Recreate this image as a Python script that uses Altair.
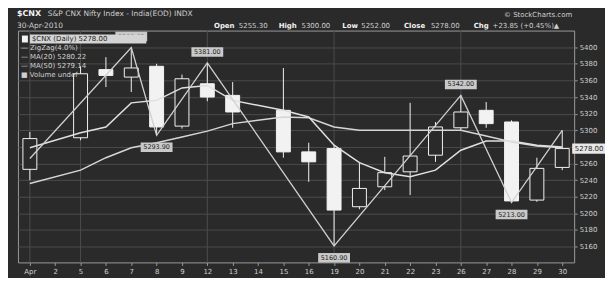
import altair as alt
import pandas as pd

# ---------------- data ----------------
axis_days = ["Apr", "2", "5", "6", "7", "8", "9", "12", "13", "14", "15", "16",
             "19", "20", "21", "22", "23", "26", "27", "28", "29", "30"]
trade_days = ["Apr", "5", "6", "7", "8", "9", "12", "13", "15", "16",
              "19", "20", "21", "22", "23", "26", "27", "28", "29", "30"]
opens = [5253, 5291, 5373, 5364, 5377, 5305, 5356, 5342, 5324, 5274,
         5278, 5208, 5232, 5250, 5270, 5303, 5324, 5310, 5216, 5255.3]
highs = [5298, 5377, 5388, 5399.65, 5380, 5367, 5381, 5358, 5375, 5285,
         5282, 5261, 5268, 5333, 5310, 5342, 5334, 5312, 5267, 5300]
lows = [5240, 5288, 5352, 5346, 5293.9, 5302, 5335, 5303, 5267, 5238,
        5160.9, 5205, 5228, 5222, 5262, 5300, 5303, 5213, 5214, 5252]
closes = [5290, 5368, 5366, 5375, 5304, 5362, 5340, 5322, 5274, 5262,
          5204, 5230, 5249, 5269, 5304, 5322, 5308, 5215, 5254.15, 5278]
ma_fast = [5279, 5297, 5304, 5333, 5336, 5351, 5354, 5336, 5324, 5316,
           5282, 5261, 5249, 5244, 5252, 5276, 5287, 5287, 5282, 5280]
ma_slow = [5236, 5252, 5267, 5279, 5285, 5292, 5299, 5308, 5316, 5315,
           5304, 5300, 5300, 5300, 5300, 5300, 5293, 5286, 5281, 5279]
zz_days = ["Apr", "7", "8", "12", "19", "26", "28", "30"]
zz_vals = [5266, 5399.65, 5293.90, 5381.00, 5160.90, 5342.00, 5213.00, 5300.00]
peak_days = ["7", "12", "26"]
peak_vals = [5399.65, 5381.00, 5342.00]
trough_days = ["8", "19", "28"]
trough_vals = [5293.90, 5160.90, 5213.00]
grid_days = ["Apr", "5", "12", "19", "26"]
y_ticks = list(range(5160, 5401, 20))
last_close = [5278.00]

# ---------------- style ----------------
BG = "#2a2a2a"
WHITE = "#f2f2f2"
GRID = "#4c4c4c"
TXT = "#cfcfcf"
FONT = "DejaVu Sans"
RECT = "M-1,-0.3L1,-0.3L1,0.3L-1,0.3Z"

candles = pd.DataFrame({"day": trade_days, "open": opens, "high": highs, "low": lows,
                        "close": closes, "ma_fast": ma_fast, "ma_slow": ma_slow,
                        "i": list(range(len(trade_days)))})
zz = pd.DataFrame({"day": zz_days, "v": zz_vals, "i": list(range(len(zz_days)))})
peaks = pd.DataFrame({"day": peak_days, "v": peak_vals})
peaks["lab"] = [f"{v:.2f}" for v in peak_vals]
troughs = pd.DataFrame({"day": trough_days, "v": trough_vals})
troughs["lab"] = [f"{v:.2f}" for v in trough_vals]
gridd = pd.DataFrame({"day": grid_days})
lastdf = pd.DataFrame({"v": last_close})
lastdf["lab"] = [f"{v:.2f}" for v in last_close]
one = pd.DataFrame({"a": [0]})

xscale = alt.Scale(type="point", domain=axis_days, padding=0.47)
xaxis = alt.Axis(labelColor=TXT, labelFontSize=7, labelFont=FONT, labelAngle=0,
                 tickColor="#9a9a9a", tickSize=3, domain=False, grid=False,
                 labelPadding=2, title=None)
yscale = alt.Scale(domain=[5141, 5420], zero=False, nice=False)
yaxis = alt.Axis(orient="right", values=y_ticks, grid=True, gridColor=GRID, gridWidth=1,
                 labelColor=TXT, labelFontSize=7, labelFont=FONT, format="d",
                 labelExpr="datum.value == 5280 ? '' : datum.label",
                 tickColor="#9a9a9a", tickSize=3, domain=False, labelPadding=2, title=None)


def X(f="day"):
    return alt.X(f"{f}:O", scale=xscale, axis=xaxis, title=None)


def Y(f):
    return alt.Y(f"{f}:Q", scale=yscale, axis=yaxis, title=None)


vgrid = alt.Chart(gridd).mark_rule(color=GRID, strokeWidth=1).encode(x=X())

wicks = alt.Chart(candles).mark_rule(color=WHITE, strokeWidth=1).encode(
    x=X(), y=Y("low"), y2="high:Q")

bodies = alt.Chart(candles).mark_bar(size=14, stroke=WHITE, strokeWidth=1).encode(
    x=X(), y=Y("open"), y2="close:Q",
    fill=alt.condition("datum.close > datum.open", alt.value(BG), alt.value(WHITE)))

line_fast = alt.Chart(candles).mark_line(color="#e0e0e0", strokeWidth=1.5).encode(
    x=X(), y=Y("ma_fast"), order="i:Q")
line_slow = alt.Chart(candles).mark_line(color="#d6d6d6", strokeWidth=1.5).encode(
    x=X(), y=Y("ma_slow"), order="i:Q")
zigzag = alt.Chart(zz).mark_line(color="#d0d0d0", strokeWidth=1.3).encode(
    x=X(), y=Y("v"), order="i:Q")


def pivot_labels(df, off):
    box = alt.Chart(df).mark_point(shape=RECT, size=1024, filled=True, opacity=1,
                                   color="#c9c9c9", yOffset=off).encode(x=X(), y=Y("v"))
    txt = alt.Chart(df).mark_text(fontSize=6.5, font=FONT, color="#1e1e1e", dy=off,
                                  baseline="middle").encode(x=X(), y=Y("v"), text="lab:N")
    return box + txt


peak_lab = pivot_labels(peaks, -11)
trough_lab = pivot_labels(troughs, 12)

last_box = alt.Chart(lastdf).mark_point(shape=RECT, size=1156, filled=True, opacity=1,
                                        color="#e8e8e8").encode(
    x=alt.value(574), y=Y("v"))
last_txt = alt.Chart(lastdf).mark_text(fontSize=7, font=FONT, color="#1e1e1e",
                                       baseline="middle").encode(
    x=alt.value(574), y=Y("v"), text="lab:N")


def label(text, x, y, size=7.5, bold=False, color=TXT, align="left"):
    return alt.Chart(one).mark_text(fontSize=size, font=FONT, color=color, align=align,
                                    baseline="middle",
                                    fontWeight="bold" if bold else "normal").encode(
        x=alt.value(x), y=alt.value(y), text=alt.value(text))


legend_box = alt.Chart(one).mark_rect(color="#d4d4d4").encode(
    x=alt.value(12), x2=alt.value(129), y=alt.value(4), y2=alt.value(13))
legend_sw = alt.Chart(one).mark_rect(color=WHITE).encode(
    x=alt.value(4), x2=alt.value(10), y=alt.value(5), y2=alt.value(12))

texts = [
    label("$CNX", -1, -17, 8, True, WHITE),
    label("S&P CNX Nifty Index - India(EOD) INDX", 30, -17, 7.5),
    label("© StockCharts.com", 557, -16, 7, False, TXT, "right"),
    label("30-Apr-2010", -1, -5, 7.5),
    label("Open", 197, -5, 7, True, WHITE), label("5255.30", 222, -5, 7),
    label("High", 262, -5, 7, True, WHITE), label("5300.00", 285, -5, 7),
    label("Low", 326, -5, 7, True, WHITE), label("5252.00", 345, -5, 7),
    label("Close", 388, -5, 7, True, WHITE), label("5278.00", 415, -5, 7),
    label("Chg", 458, -5, 7, True, WHITE), label("+23.85 (+0.45%)▲", 477, -5, 7),
    label("$CNX (Daily) 5278.00", 14, 8.5, 7, False, "#1e1e1e"),
    label("— ZigZag(4.0%)", 3, 18, 7),
    label("— MA(20) 5280.22", 3, 27, 7),
    label("— MA(50) 5279.14", 3, 36, 7),
    label("■ Volume undef", 3, 45, 7),
]

chart = alt.layer(
    vgrid, wicks, bodies, line_slow, line_fast, zigzag, peak_lab, trough_lab,
    last_box, last_txt, legend_box, legend_sw, *texts
).properties(
    width=559, height=233,
    padding={"left": 10, "top": 22, "right": 31, "bottom": 15},
    autosize=alt.AutoSizeParams(type="none"),
    background=BG,
).configure_view(stroke="#9a9a9a", strokeWidth=1)

chart.save("out.html", embed_options={"renderer": "svg", "actions": False})
